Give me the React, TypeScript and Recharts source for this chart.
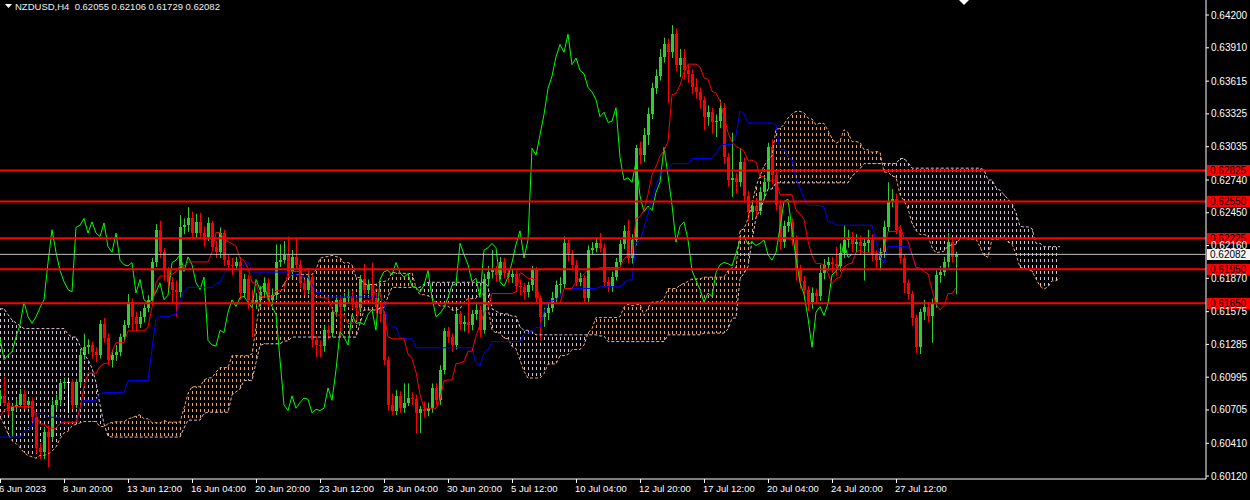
import React from "react";
import { ComposedChart, Bar, Line, Area, XAxis, YAxis, ReferenceLine } from "recharts";

// H4 candles, 6 Jun 2023 .. 1 Aug 2023 (open of each bar = previous close)
const FIRST_OPEN = 0.608;
const CLOSES = [
  0.6083, 0.6077, 0.607, 0.6073, 0.6075, 0.6085, 0.6075, 0.6078, 0.6064, 0.6037,
  0.6033, 0.6051, 0.6047, 0.6075, 0.6079, 0.6094, 0.6095, 0.6095, 0.6075, 0.6095,
  0.6119, 0.6126, 0.6128, 0.6122, 0.6119, 0.6147, 0.6134, 0.6115, 0.6119, 0.6122,
  0.6135, 0.6146, 0.6166, 0.6153, 0.6147, 0.6153, 0.6161, 0.6168, 0.6201, 0.623,
  0.621, 0.6194, 0.6184, 0.6177, 0.6175, 0.6232, 0.6234, 0.624, 0.6227, 0.6237,
  0.6227, 0.6224, 0.6236, 0.6215, 0.621, 0.6227, 0.6203, 0.6199, 0.6198, 0.6201,
  0.6174, 0.6186, 0.6168, 0.6165, 0.6168, 0.6175, 0.6183, 0.6168, 0.6172, 0.6201,
  0.6203, 0.6208, 0.6193, 0.6206, 0.6199, 0.6183, 0.6177, 0.6188, 0.6132, 0.6128,
  0.6127, 0.6141, 0.6139, 0.6157, 0.6168, 0.6162, 0.617, 0.6171, 0.6166, 0.6161,
  0.6186, 0.6177, 0.6181, 0.617, 0.6162, 0.6155, 0.6115, 0.6075, 0.607, 0.6083,
  0.6072, 0.6077, 0.6081, 0.608, 0.6068, 0.6071, 0.607, 0.6072, 0.609, 0.6079,
  0.6106, 0.614, 0.6135, 0.6128, 0.6155, 0.6147, 0.6148, 0.6146, 0.6155, 0.6159,
  0.6141, 0.6186, 0.6193, 0.6194, 0.619, 0.6201, 0.6192, 0.6188, 0.6191, 0.618,
  0.6179, 0.6175, 0.6181, 0.6194, 0.617, 0.6153, 0.6156, 0.6161, 0.617, 0.6181,
  0.6182, 0.6218, 0.6208, 0.6199, 0.6184, 0.6187, 0.617, 0.6212, 0.6214, 0.6218,
  0.6214, 0.6184, 0.618, 0.6188, 0.6201, 0.6217, 0.6229, 0.6205, 0.6221, 0.6302,
  0.6296, 0.6314, 0.6332, 0.6355, 0.6366, 0.6383, 0.6394, 0.6387, 0.6403, 0.6376,
  0.6382, 0.6371, 0.6368, 0.6356, 0.6352, 0.6345, 0.633, 0.6334, 0.6325, 0.6326,
  0.6338, 0.6294, 0.6274, 0.6276, 0.6272, 0.629, 0.626, 0.6246, 0.6251, 0.6247,
  0.6263, 0.6272, 0.6303, 0.6278, 0.6252, 0.6219, 0.6233, 0.6237, 0.6221, 0.6194,
  0.6185, 0.6177, 0.6166, 0.6174, 0.6171, 0.6192, 0.6199, 0.6201, 0.62, 0.6198,
  0.6209, 0.6221, 0.6224, 0.6217, 0.6219, 0.6216, 0.6218, 0.6221, 0.6208, 0.6203,
  0.621, 0.6232, 0.6255, 0.6257, 0.623, 0.6205, 0.6183, 0.6173, 0.6152, 0.6126,
  0.6157, 0.6162, 0.6154, 0.6165, 0.619, 0.6193, 0.6201, 0.6219, 0.62055, 0.62082,
];
const HIGHS = [
  0.6088, 0.61, 0.6079, 0.6076, 0.608, 0.6089, 0.6088, 0.6081, 0.6082, 0.6068,
  0.6041, 0.6055, 0.6057, 0.6079, 0.6084, 0.6097, 0.6099, 0.6099, 0.6098, 0.6098,
  0.6124, 0.6138, 0.6133, 0.6131, 0.6126, 0.615, 0.6152, 0.6138, 0.6124, 0.6128,
  0.6138, 0.615, 0.6173, 0.6169, 0.6157, 0.6158, 0.6164, 0.6172, 0.6205, 0.6235,
  0.6238, 0.6214, 0.6197, 0.6188, 0.6185, 0.6243, 0.624, 0.625, 0.6246, 0.6244,
  0.6245, 0.6233, 0.6241, 0.6238, 0.622, 0.6232, 0.623, 0.6208, 0.6205, 0.6206,
  0.6206, 0.6191, 0.619, 0.6177, 0.6174, 0.618, 0.6188, 0.6187, 0.6178, 0.6217,
  0.6217, 0.622, 0.6224, 0.6212, 0.6222, 0.6203, 0.6186, 0.6192, 0.6192, 0.6136,
  0.6132, 0.6145, 0.6146, 0.616, 0.6172, 0.6172, 0.6174, 0.6177, 0.6176, 0.6169,
  0.619, 0.62, 0.6186, 0.6201, 0.6174, 0.6166, 0.6158, 0.6118, 0.6085, 0.6088,
  0.6087, 0.6094, 0.6094, 0.6086, 0.6084, 0.6074, 0.6078, 0.6077, 0.6094, 0.6094,
  0.611, 0.6143, 0.6144, 0.6138, 0.6159, 0.6158, 0.6154, 0.617, 0.6159, 0.6166,
  0.6163, 0.6191, 0.6198, 0.6212, 0.6198, 0.6206, 0.6205, 0.6196, 0.6195, 0.6194,
  0.6186, 0.6183, 0.6184, 0.6198, 0.6197, 0.6172, 0.6161, 0.6165, 0.6175, 0.6185,
  0.6188, 0.6224, 0.6221, 0.6212, 0.6203, 0.6192, 0.619, 0.6216, 0.6219, 0.6223,
  0.6227, 0.6218, 0.6188, 0.6193, 0.6205, 0.6221, 0.6234, 0.6239, 0.6226, 0.6305,
  0.6308, 0.632, 0.6338, 0.636, 0.6372, 0.639, 0.64, 0.6399, 0.6411, 0.6408,
  0.639, 0.639, 0.6376, 0.6372, 0.6364, 0.6356, 0.6348, 0.634, 0.6338, 0.6332,
  0.6345, 0.6342, 0.6298, 0.6316, 0.628, 0.6302, 0.6294, 0.6264, 0.6256, 0.6258,
  0.6268, 0.6277, 0.6307, 0.631, 0.6282, 0.6256, 0.6238, 0.6242, 0.624, 0.6225,
  0.6199, 0.6189, 0.618, 0.6179, 0.6178, 0.6199, 0.6204, 0.6206, 0.6206, 0.6215,
  0.6218, 0.6234, 0.623, 0.6228, 0.6226, 0.6225, 0.6223, 0.623, 0.6226, 0.6212,
  0.6214, 0.6238, 0.6272, 0.6266, 0.6262, 0.6234, 0.6208, 0.6186, 0.6176, 0.6155,
  0.616, 0.6168, 0.6166, 0.6169, 0.6194, 0.6198, 0.6206, 0.6227, 0.6223, 0.62106,
];
const LOWS = [
  0.6076, 0.6074, 0.6066, 0.6047, 0.607, 0.6073, 0.6071, 0.6072, 0.606, 0.6032,
  0.6027, 0.6027, 0.602, 0.6044, 0.6071, 0.6075, 0.6089, 0.6068, 0.6071, 0.6072,
  0.6092, 0.6115, 0.612, 0.6116, 0.6113, 0.6116, 0.613, 0.611, 0.6108, 0.6114,
  0.6118, 0.6131, 0.6143, 0.6141, 0.614, 0.6143, 0.6148, 0.6157, 0.6164, 0.6197,
  0.6205, 0.6185, 0.6176, 0.6165, 0.6153, 0.617, 0.6226, 0.6228, 0.6222, 0.6222,
  0.6223, 0.6215, 0.622, 0.6211, 0.6205, 0.6205, 0.6198, 0.6194, 0.619, 0.6195,
  0.6168, 0.617, 0.616, 0.6135, 0.616, 0.6162, 0.617, 0.6162, 0.6163, 0.6168,
  0.6197, 0.62, 0.6188, 0.6188, 0.6195, 0.6178, 0.6172, 0.6173, 0.6126, 0.6117,
  0.6117, 0.6122, 0.6133, 0.6135, 0.6153, 0.6135, 0.6158, 0.6165, 0.616, 0.6155,
  0.6157, 0.6173, 0.6173, 0.6166, 0.6156, 0.6148, 0.611, 0.607, 0.6066, 0.6066,
  0.6068, 0.6068, 0.6074, 0.6075, 0.605, 0.605, 0.6064, 0.6065, 0.6068, 0.6075,
  0.6075, 0.6102, 0.613, 0.6122, 0.6124, 0.6141, 0.614, 0.6138, 0.6141, 0.615,
  0.6135, 0.6138, 0.618, 0.6187, 0.6184, 0.6186, 0.6187, 0.6183, 0.6183, 0.6175,
  0.6172, 0.6168, 0.617, 0.6176, 0.6165, 0.6132, 0.6144, 0.615, 0.6157, 0.6166,
  0.6172, 0.6178, 0.6202, 0.6194, 0.618, 0.618, 0.6166, 0.6166, 0.6208, 0.621,
  0.621, 0.618, 0.6175, 0.6175, 0.6185, 0.6197, 0.6213, 0.62, 0.62, 0.6216,
  0.6288, 0.629, 0.6305, 0.6328, 0.635, 0.6362, 0.6378, 0.6342, 0.6382, 0.637,
  0.6365, 0.6363, 0.636, 0.635, 0.6346, 0.6337, 0.6318, 0.6322, 0.6315, 0.6312,
  0.632, 0.6288, 0.6268, 0.6259, 0.6262, 0.6268, 0.6254, 0.6238, 0.624, 0.624,
  0.6243, 0.6258, 0.6266, 0.627, 0.6247, 0.6212, 0.6214, 0.6228, 0.6216, 0.6185,
  0.6178, 0.6168, 0.6158, 0.616, 0.6165, 0.6167, 0.6186, 0.6194, 0.6192, 0.619,
  0.6193, 0.6205, 0.6214, 0.621, 0.621, 0.6208, 0.6185, 0.621, 0.6202, 0.6196,
  0.6194, 0.6205, 0.6228, 0.625, 0.6226, 0.62, 0.6174, 0.6168, 0.6145, 0.6121,
  0.612, 0.615, 0.6148, 0.613, 0.6161, 0.6183, 0.6189, 0.6196, 0.6201, 0.61729,
];

// bars before the visible window (needed for the Ichimoku look-back only)
const PRE_HIGHS = [
  0.6265, 0.627, 0.628, 0.6275, 0.6285, 0.629, 0.628, 0.627, 0.6275, 0.6285, 0.629, 0.628, 0.6275, 0.627, 0.628, 0.6285,
  0.63, 0.629, 0.628, 0.6285, 0.627, 0.6255, 0.6245, 0.623, 0.6205, 0.6165, 0.6131, 0.611,
  0.6095, 0.609, 0.608, 0.6075, 0.607, 0.6065,
  0.607, 0.6075, 0.608, 0.6085, 0.609, 0.6082,
  0.6085, 0.6091, 0.6088, 0.6085, 0.608, 0.6078,
  0.608, 0.6082, 0.6078, 0.607, 0.606, 0.6055,
  0.605, 0.6045, 0.6035, 0.6025, 0.6015, 0.6012,
  0.6025, 0.6035, 0.605, 0.606, 0.6055, 0.6065,
  0.6075, 0.609, 0.61, 0.6108, 0.608, 0.607,
  0.6065, 0.607, 0.608, 0.6085, 0.609, 0.6088, 0.6085,
];
const PRE_LOWS = [
  0.6235, 0.624, 0.6245, 0.6245, 0.625, 0.6255, 0.625, 0.624, 0.624, 0.625, 0.6255, 0.625, 0.6245, 0.624, 0.6245, 0.625,
  0.6255, 0.625, 0.6245, 0.6245, 0.624, 0.6225, 0.6215, 0.6195, 0.616, 0.612, 0.6085, 0.6065,
  0.6045, 0.6035, 0.6035, 0.604, 0.603, 0.6025,
  0.603, 0.6035, 0.604, 0.6045, 0.6052, 0.605,
  0.6055, 0.606, 0.606, 0.6055, 0.605, 0.6048,
  0.6045, 0.604, 0.603, 0.6025, 0.602, 0.6022,
  0.602, 0.601, 0.6, 0.5995, 0.599, 0.5985,
  0.5995, 0.6, 0.6005, 0.6025, 0.603, 0.6035,
  0.6045, 0.606, 0.6075, 0.606, 0.6045, 0.604,
  0.604, 0.6045, 0.605, 0.606, 0.6065, 0.607, 0.6072,
];

const LEVELS = [0.62825, 0.6255, 0.62225, 0.6195, 0.6165];
const BID = 0.62082;
const PRICE_TICKS = [
  0.642, 0.6391, 0.63615, 0.63325, 0.63035, 0.6274, 0.6245, 0.6216,
  0.6187, 0.61575, 0.61285, 0.60995, 0.60705, 0.6041, 0.6012,
];
const TIME_LABELS = [
  "6 Jun 2023", "8 Jun 20:00", "13 Jun 12:00", "16 Jun 04:00", "20 Jun 20:00",
  "23 Jun 12:00", "28 Jun 04:00", "30 Jun 20:00", "5 Jul 12:00", "10 Jul 04:00",
  "12 Jul 20:00", "17 Jul 12:00", "20 Jul 04:00", "24 Jul 20:00", "27 Jul 12:00",
];
const TITLE = "NZDUSD,H4  0.62055 0.62106 0.61729 0.62082";

const Y_MIN = 0.60094;
const Y_MAX = 0.64333;
const SLOTS = 302;
const LABEL_STEP = 16;
const FONT = "'Liberation Sans', 'DejaVu Sans', sans-serif";

const ALL_H = [...PRE_HIGHS, ...HIGHS];
const ALL_L = [...PRE_LOWS, ...LOWS];
const PRE = PRE_HIGHS.length;
const N = CLOSES.length;

const mid = (end: number, len: number) => {
  let hi = -Infinity;
  let lo = Infinity;
  for (let k = Math.max(0, end - len + 1); k <= end; k++) {
    hi = Math.max(hi, ALL_H[k]);
    lo = Math.min(lo, ALL_L[k]);
  }
  return (hi + lo) / 2;
};

const rows = Array.from({ length: SLOTS }, (_, i) => {
  const row: any = { i };
  if (i < N) {
    const open = i === 0 ? FIRST_OPEN : CLOSES[i - 1];
    row.open = open;
    row.close = CLOSES[i];
    row.high = HIGHS[i];
    row.low = LOWS[i];
    row.range = [LOWS[i], HIGHS[i]];
    row.tenkan = mid(PRE + i, 9);
    row.kijun = mid(PRE + i, 26);
  }
  if (i + 26 < N) row.chikou = CLOSES[i + 26];
  if (i < N + 26) {
    const g = PRE + i - 26;
    const a = (mid(g, 9) + mid(g, 26)) / 2;
    const b = mid(g, 52);
    const lo = Math.min(a, b);
    const hi = Math.max(a, b);
    row.spanA = a;
    row.spanB = b;
    row.sandy = a >= b ? [lo, hi] : [hi, hi];
    row.thistle = b > a ? [lo, hi] : [hi, hi];
  }
  return row;
});

const Candle = (props: any) => {
  const { x, y, width, height, payload } = props;
  if (!payload || payload.high == null) return null;
  const { open, close, high, low } = payload;
  const top = Math.min(y, y + height);
  const h = Math.abs(height);
  const span = high - low || 1e-9;
  const py = (p: number) => top + ((high - p) / span) * h;
  const cx = Math.floor(x + width / 2);
  const color = close > open ? "#32CD32" : close < open ? "#FF0000" : "#FFFFFF";
  const bTop = Math.round(py(Math.max(open, close)));
  const bBot = Math.round(py(Math.min(open, close)));
  return (
    <g>
      <line x1={cx + 0.5} x2={cx + 0.5} y1={top} y2={top + h} stroke={color} strokeWidth={1} />
      <rect x={cx - 1} y={bTop} width={3} height={Math.max(1, bBot - bTop)} fill={color} />
    </g>
  );
};

const PriceTick = (props: any) => {
  const { x, y, payload } = props;
  return (
    <g>
      <line x1={x} x2={x + 3} y1={y} y2={y} stroke="#FFFFFF" />
      <text x={x + 5} y={y + 3.5} fill="#FFFFFF" fontSize={10} fontFamily={FONT}>
        {Number(payload.value).toFixed(5)}
      </text>
    </g>
  );
};

const TimeTick = (props: any) => {
  const { x, y, payload } = props;
  const label = TIME_LABELS[Math.round(payload.value / LABEL_STEP)];
  return (
    <g>
      <line x1={x + 0.5} x2={x + 0.5} y1={y} y2={y + 4} stroke="#FFFFFF" />
      <text x={x - 1} y={y + 13} fill="#FFFFFF" fontSize={9.5} fontFamily={FONT}>
        {label}
      </text>
    </g>
  );
};

const PriceTag = (props: any) => {
  const { viewBox, value, bg, fg } = props;
  if (!viewBox) return null;
  const yy = Math.round(viewBox.y);
  const x0 = viewBox.x + viewBox.width + 1;
  return (
    <g>
      <rect x={x0} y={yy - 5} width={43} height={11} fill={bg} />
      <text x={x0 + 3} y={yy + 4} fill={fg} fontSize={10} fontFamily={FONT}>
        {value.toFixed(5)}
      </text>
    </g>
  );
};

export default function App() {
  return (
    <div
      style={{
        position: "absolute",
        left: -2,
        top: 0,
        width: 1252,
        height: 500,
        background: "#000000",
        overflow: "hidden",
      }}
    >
      <ComposedChart
        width={1252}
        height={500}
        data={rows}
        margin={{ top: 0, right: 0, bottom: 0, left: 0 }}
        barCategoryGap={0}
        barGap={0}
      >
        <defs>
          <pattern id="hatchSandy" patternUnits="userSpaceOnUse" x={0} y={0} width={4} height={6}>
            <rect x={2} y={1} width={1} height={3} fill="#F4A460" />
          </pattern>
          <pattern id="hatchThistle" patternUnits="userSpaceOnUse" x={0} y={0} width={4} height={6}>
            <rect x={2} y={1} width={1} height={3} fill="#D8BFD8" />
          </pattern>
        </defs>
        <XAxis
          dataKey="i"
          type="category"
          height={21}
          interval={0}
          ticks={TIME_LABELS.map((_, k) => k * LABEL_STEP)}
          tick={<TimeTick />}
          tickLine={false}
          tickSize={0}
          tickMargin={0}
          axisLine={{ stroke: "#FFFFFF" }}
        />
        <YAxis
          orientation="right"
          type="number"
          domain={[Y_MIN, Y_MAX]}
          allowDataOverflow
          ticks={PRICE_TICKS}
          interval={0}
          width={44}
          tick={<PriceTick />}
          tickLine={false}
          tickSize={0}
          tickMargin={0}
          axisLine={{ stroke: "#FFFFFF" }}
        />
        <Area dataKey="thistle" type="linear" stroke="none" fill="url(#hatchThistle)" fillOpacity={1} isAnimationActive={false} dot={false} activeDot={false} />
        <Area dataKey="sandy" type="linear" stroke="none" fill="url(#hatchSandy)" fillOpacity={1} isAnimationActive={false} dot={false} activeDot={false} />
        <Line dataKey="spanA" type="linear" stroke="#F4A460" strokeWidth={1} strokeDasharray="3 2" dot={false} activeDot={false} isAnimationActive={false} />
        <Line dataKey="spanB" type="linear" stroke="#D8BFD8" strokeWidth={1} strokeDasharray="3 2" dot={false} activeDot={false} isAnimationActive={false} />
        <Bar dataKey="range" barSize={3} shape={<Candle />} isAnimationActive={false} />
        <Line dataKey="chikou" type="linear" stroke="#00FF00" strokeWidth={1} dot={false} activeDot={false} isAnimationActive={false} />
        <Line dataKey="kijun" type="linear" stroke="#0000FF" strokeWidth={1} dot={false} activeDot={false} isAnimationActive={false} />
        <Line dataKey="tenkan" type="linear" stroke="#FF0000" strokeWidth={1} dot={false} activeDot={false} isAnimationActive={false} />
        <ReferenceLine y={BID} stroke="#C0C0C0" strokeWidth={1} label={<PriceTag value={BID} bg="#F5F5F5" fg="#000000" />} />
        {LEVELS.map((v) => (
          <ReferenceLine key={v} y={v} stroke="#FF0000" strokeWidth={2} label={<PriceTag value={v} bg="#FF0000" fg="#000000" />} />
        ))}
      </ComposedChart>
      <div
        style={{
          position: "absolute",
          left: 17,
          top: 1,
          color: "#F0F0F0",
          fontFamily: FONT,
          fontSize: 9.5,
          whiteSpace: "pre",
        }}
      >
        {TITLE}
      </div>
      <svg style={{ position: "absolute", left: 0, top: 0 }} width={1252} height={12}>
        <polygon points="7,4 14,4 10.5,8" fill="#FFFFFF" />
        <polygon points="961,0 971,0 966,5" fill="#FFFFFF" />
      </svg>
    </div>
  );
}
